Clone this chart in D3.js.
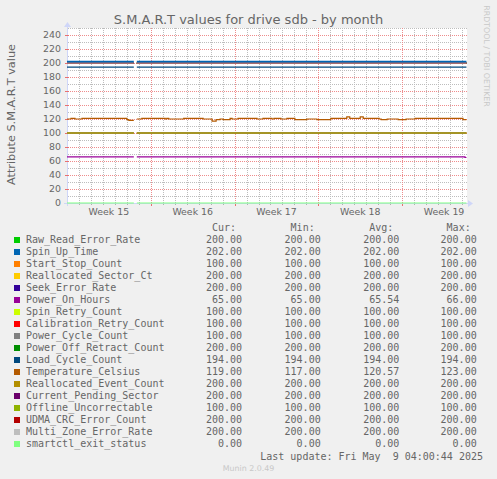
<!DOCTYPE html>
<html>
<head>
<meta charset="utf-8">
<script src="https://cdn.jsdelivr.net/npm/d3@7"></script>
<style>
  html, body { margin: 0; padding: 0; background: #F0F0F0; overflow: hidden; }
  svg { display: block; }
</style>
</head>
<body>
<script>
// ---------------- DATA ----------------
const seriesNames = [
  "Raw_Read_Error_Rate", "Spin_Up_Time", "Start_Stop_Count", "Reallocated_Sector_Ct",
  "Seek_Error_Rate", "Power_On_Hours", "Spin_Retry_Count", "Calibration_Retry_Count",
  "Power_Cycle_Count", "Power_Off_Retract_Count", "Load_Cycle_Count", "Temperature_Celsius",
  "Reallocated_Event_Count", "Current_Pending_Sector", "Offline_Uncorrectable",
  "UDMA_CRC_Error_Count", "Multi_Zone_Error_Rate", "smartctl_exit_status"
];
const seriesColors = [
  "#00CC00", "#0066B3", "#FF8000", "#FFCC00", "#330099", "#990099", "#CCFF00", "#FF0000",
  "#808080", "#008F00", "#00487D", "#B35A00", "#B38F00", "#6B006B", "#8FB300", "#B30000",
  "#BEBEBE", "#80FF80"
];
const curValues = [200,202,100,200,200,65,100,100,100,200,194,119,200,200,100,200,200,0];
const minValues = [200,202,100,200,200,65,100,100,100,200,194,117,200,200,100,200,200,0];
const avgValues = [200,202,100,200,200,65.54,100,100,100,200,194,120.57,200,200,100,200,200,0];
const maxValues = [200,202,100,200,200,66,100,100,100,200,194,123,200,200,100,200,200,0];

// flat series level (null = series has its own step data below)
const flatLevels = [200,202,100,200,200,null,100,100,100,200,194,null,200,200,100,200,200,0];

// time span and periods with data (a gap in data on Apr 12)
const startTime = "2025-04-07T00:00:00Z";
const endTime = "2025-05-10T10:05:00Z";
const dataSegments = [
  ["2025-04-07T00:00:00Z", "2025-04-12T14:00:00Z"],
  ["2025-04-12T20:00:00Z", "2025-05-10T09:00:00Z"]
];

// Temperature_Celsius change points
const tempTimes = [
  "2025-04-07T00:00:00Z","2025-04-07T08:00:00Z","2025-04-07T16:00:00Z","2025-04-08T06:00:00Z",
  "2025-04-12T00:00:00Z","2025-04-12T04:00:00Z","2025-04-12T20:00:00Z","2025-04-13T06:00:00Z",
  "2025-04-15T05:00:00Z","2025-04-15T08:00:00Z","2025-04-15T12:00:00Z","2025-04-16T18:00:00Z",
  "2025-04-18T09:00:00Z","2025-04-19T03:00:00Z","2025-04-19T11:00:00Z","2025-04-19T19:00:00Z",
  "2025-04-20T01:00:00Z","2025-04-20T15:00:00Z","2025-04-20T19:00:00Z","2025-04-21T07:00:00Z",
  "2025-04-22T21:00:00Z","2025-04-23T09:00:00Z","2025-04-24T03:00:00Z","2025-04-24T07:00:00Z",
  "2025-04-24T21:00:00Z","2025-04-25T09:00:00Z","2025-04-26T01:00:00Z","2025-04-27T01:00:00Z",
  "2025-04-27T21:00:00Z","2025-04-29T01:00:00Z","2025-04-30T09:00:00Z","2025-04-30T15:00:00Z",
  "2025-05-01T12:00:00Z","2025-05-01T18:00:00Z","2025-05-03T02:00:00Z","2025-05-03T06:00:00Z",
  "2025-05-03T18:00:00Z","2025-05-04T16:00:00Z","2025-05-05T08:00:00Z","2025-05-06T02:00:00Z",
  "2025-05-10T02:00:00Z"
];
const tempValues = [
  120,121,120,121,
  119,118,120,121,
  120,121,120,121,
  120,117,119,120,
  119,121,120,121,
  120,121,120,121,
  120,121,119,120,
  119,121,123,121,
  123,121,120,119,
  120,119,120,121,
  119
];

// Power_On_Hours change points
const powerOnTimes = ["2025-04-07T00:00:00Z", "2025-05-10T06:00:00Z"];
const powerOnValues = [66, 65];

const yTicks = [0,20,40,60,80,100,120,140,160,180,200,220,240];
const titleText = "S.M.A.R.T values for drive sdb - by month";
const yAxisTitle = "Attribute S.M.A.R.T value";
const legendHeaders = ["Cur:", "Min:", "Avg:", "Max:"];
const lastUpdateText = "Last update: Fri May  9 04:00:44 2025";
const versionText = "Munin 2.0.49";
const sideText = "RRDTOOL / TOBI OETIKER";

// ---------------- DRAWING ----------------
const W = 497, H = 479;
const plotLeft = 67, plotRight = 467, plotTop = 28, plotBottom = 203;
const svg = d3.select("body").append("svg").attr("width", W).attr("height", H);
svg.append("rect").attr("width", W).attr("height", H).attr("fill", "#F0F0F0");

const minorColor = "#BDBDBD", majorColor = "#EE8C8C";

const parse = s => new Date(s);
const t0 = parse(startTime), t1 = parse(endTime);
const x = d3.scaleUtc().domain([t0, t1]).range([plotLeft, plotRight]);
const y = d3.scaleLinear().domain([0, 250]).range([plotBottom, plotTop]);

// canvas
svg.append("rect").attr("x", plotLeft).attr("y", plotTop).attr("width", plotRight - plotLeft)
  .attr("height", plotBottom - plotTop).attr("fill", "#FFFFFF");

const gridG = svg.append("g");
d3.range(10, 251, 10).forEach(v => {
  const major = v % 20 === 0;
  const yy = Math.round(y(v)) + 0.5;
  gridG.append("line")
    .attr("x1", plotLeft + 1).attr("x2", plotRight).attr("y1", yy).attr("y2", yy)
    .attr("stroke", major ? majorColor : minorColor).attr("stroke-width", 1)
    .attr("stroke-dasharray", "1 1");
});
const dayList = d3.utcDay.range(d3.utcDay.offset(t0, 1), t1);
dayList.forEach(d => {
  const isMon = d.getUTCDay() === 1;
  const xx = Math.round(x(d)) + 0.5;
  gridG.append("line")
    .attr("x1", xx).attr("x2", xx).attr("y1", plotTop).attr("y2", plotBottom)
    .attr("stroke", isMon ? majorColor : minorColor).attr("stroke-width", 1)
    .attr("stroke-dasharray", "1 1");
  gridG.append("line")
    .attr("x1", xx).attr("x2", xx).attr("y1", plotBottom).attr("y2", plotBottom + (isMon ? 3 : 2))
    .attr("stroke", isMon ? "#E87070" : "#B0B0B0").attr("stroke-width", 1);
});

// axes
const axisColor = "#CFD6F8";
svg.append("line").attr("x1", plotLeft + 0.5).attr("x2", plotLeft + 0.5).attr("y1", plotBottom + 3).attr("y2", plotTop - 3)
  .attr("stroke", axisColor).attr("stroke-width", 1);
svg.append("line").attr("x1", plotLeft - 3).attr("x2", plotRight + 1).attr("y1", plotBottom + 0.5).attr("y2", plotBottom + 0.5)
  .attr("stroke", axisColor).attr("stroke-width", 1);
yTicks.forEach(v => {
  const yy = Math.round(y(v)) + 0.5;
  svg.append("line").attr("x1", plotLeft - 2).attr("x2", plotLeft + 2).attr("y1", yy).attr("y2", yy)
    .attr("stroke", v === 0 ? axisColor : "#E87070").attr("stroke-width", 1);
});

// series lines
const valueAt = (times, values, t) => {
  let v = values[0];
  for (let i = 0; i < times.length; i++) if (parse(times[i]) <= t) v = values[i];
  return v;
};
const stepData = i => {
  if (flatLevels[i] !== null) return { times: [startTime], values: [flatLevels[i]] };
  if (seriesNames[i] === "Temperature_Celsius") return { times: tempTimes, values: tempValues };
  return { times: powerOnTimes, values: powerOnValues };
};
const lineGen = d3.line().x(d => x(d.t)).y(d => y(d.v)).curve(d3.curveStepAfter);
const linesG = svg.append("g");
const order = d3.range(seriesNames.length).filter(i => seriesNames[i] !== "Spin_Up_Time");
order.push(seriesNames.indexOf("Spin_Up_Time"));
order.forEach(i => {
  const sd = stepData(i);
  dataSegments.forEach(([s, e]) => {
    const ts = parse(s), te = parse(e);
    const pts = [{ t: ts, v: valueAt(sd.times, sd.values, ts) }];
    sd.times.forEach((tt, k) => {
      const d = parse(tt);
      if (d > ts && d < te) pts.push({ t: d, v: sd.values[k] });
    });
    pts.push({ t: te, v: valueAt(sd.times, sd.values, te) });
    linesG.append("path").attr("d", lineGen(pts)).attr("fill", "none")
      .attr("stroke", seriesColors[i])
      .attr("stroke-width", seriesNames[i] === "Spin_Up_Time" ? 1.8 : 1.2);
  });
});

// arrows
svg.append("path").attr("d", `M${plotLeft - 3},${plotTop - 1} L${plotLeft + 0.5},${plotTop - 6} L${plotLeft + 4},${plotTop - 1} Z`).attr("fill", axisColor);
svg.append("path").attr("d", `M${plotRight + 1},${plotBottom - 3} L${plotRight + 6},${plotBottom + 0.5} L${plotRight + 1},${plotBottom + 4} Z`).attr("fill", axisColor);

const fontColor = "#666666";
yTicks.forEach(v => {
  svg.append("text").attr("x", 61).attr("y", y(v) + 3.4).attr("text-anchor", "end")
    .attr("font-family", "DejaVu Sans").attr("font-size", 9.4).attr("fill", fontColor).text(v);
});
d3.utcMonday.range(d3.utcDay.offset(t0, -7), t1).forEach(m => {
  const c = d3.utcHour.offset(m, 84);
  if (c < t0 || c > t1) return;
  svg.append("text").attr("x", x(c)).attr("y", 215).attr("text-anchor", "middle")
    .attr("font-family", "DejaVu Sans").attr("font-size", 9.4).attr("fill", fontColor)
    .text("Week " + d3.utcFormat("%V")(m));
});

svg.append("text").attr("x", 248.5).attr("y", 24).attr("text-anchor", "middle")
  .attr("font-family", "DejaVu Sans").attr("font-size", 13).attr("fill", fontColor).text(titleText);
svg.append("text").attr("transform", "translate(15,114.5) rotate(-90)").attr("text-anchor", "middle")
  .attr("font-family", "DejaVu Sans").attr("font-size", 11.3).attr("fill", fontColor).text(yAxisTitle);
svg.append("text").attr("transform", "translate(484,56) rotate(90)").attr("text-anchor", "middle")
  .attr("font-family", "DejaVu Sans").attr("font-size", 7.9).attr("fill", "#C8C8C8").text(sideText);

const mono = "DejaVu Sans Mono";
const colX = [242, 320.7, 399.3, 476.7];
legendHeaders.forEach((h, k) => {
  svg.append("text").attr("x", colX[k] - 6).attr("y", 230.5).attr("text-anchor", "end")
    .attr("font-family", mono).attr("font-size", 10).attr("fill", fontColor).text(h);
});
const cols = [curValues, minValues, avgValues, maxValues];
seriesNames.forEach((n, i) => {
  const yy = 243 + i * 12;
  svg.append("rect").attr("x", 14).attr("y", yy - 6).attr("width", 6).attr("height", 6).attr("fill", seriesColors[i]);
  svg.append("text").attr("x", 26).attr("y", yy).attr("font-family", mono).attr("font-size", 10)
    .attr("fill", fontColor).text(n);
  cols.forEach((arr, k) => {
    svg.append("text").attr("x", colX[k]).attr("y", yy).attr("text-anchor", "end")
      .attr("font-family", mono).attr("font-size", 10).attr("fill", fontColor).text(arr[i].toFixed(2));
  });
});
svg.append("text").attr("x", 483).attr("y", 459.5).attr("text-anchor", "end")
  .attr("font-family", mono).attr("font-size", 10).attr("fill", fontColor)
  .style("white-space", "pre").text(lastUpdateText);
svg.append("text").attr("x", 248.5).attr("y", 471).attr("text-anchor", "middle")
  .attr("font-family", "DejaVu Sans").attr("font-size", 7.9).attr("fill", "#C8C8C8").text(versionText);
</script>
</body>
</html>
